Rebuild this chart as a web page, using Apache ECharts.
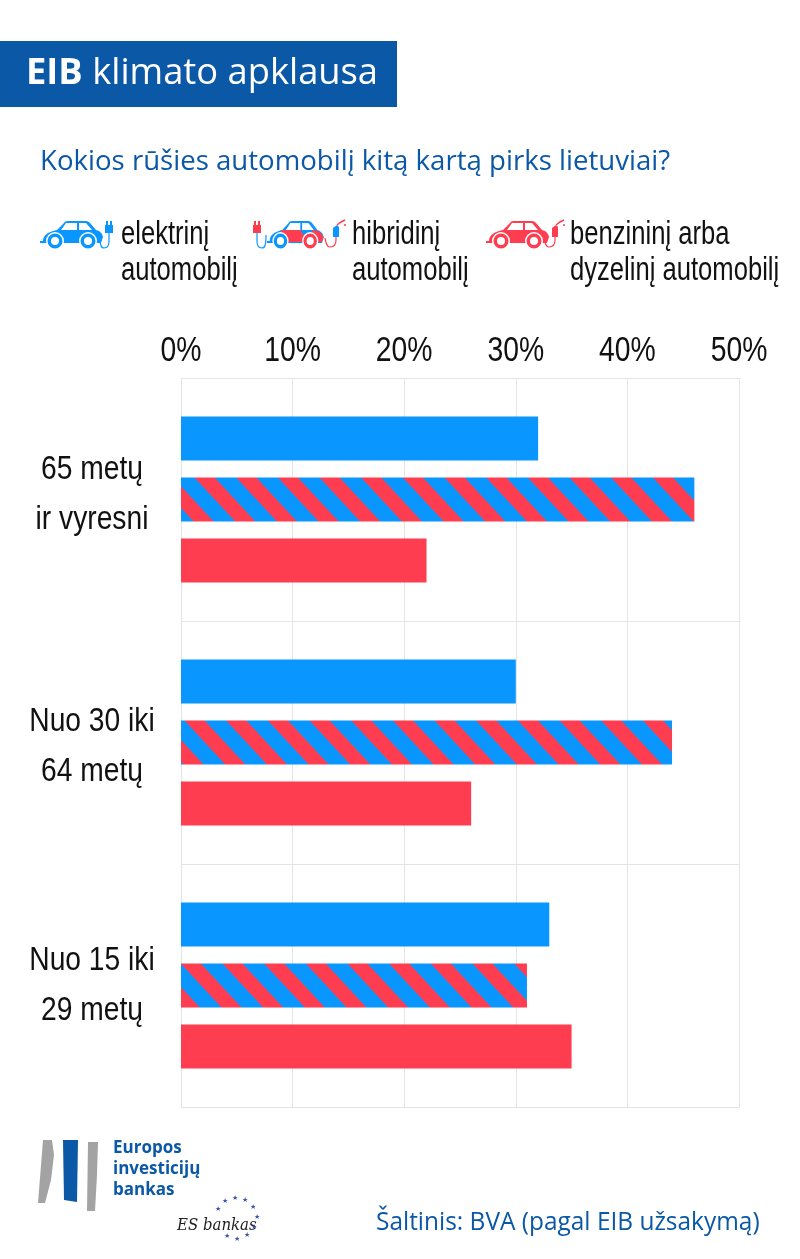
<!DOCTYPE html>
<html>
<head>
<meta charset="utf-8">
<style>html,body{margin:0;padding:0;background:#fff}#main{width:800px;height:1259px}</style>
<script src="https://cdn.jsdelivr.net/npm/echarts@6/dist/echarts.min.js"></script>
</head>
<body>
<div id="main"></div>
<script>
var categories = ['65 metų\nir vyresni', 'Nuo 30 iki\n64 metų', 'Nuo 15 iki\n29 metų'];
var electric = [32, 30, 33];
var hybrid = [46, 44, 31];
var petrol = [22, 26, 35];
var ticks = [0, 10, 20, 30, 40, 50];

var BLUE = '#0a96ff', RED = '#ff3d50', NAVY = '#0b58a6', GRID = '#e4e4e4';
var sans = '"Liberation Sans", sans-serif';
var open = '"Open Sans", sans-serif';

// where a red stripe starts on the top edge of each hybrid bar: [x, y]
var stripeStarts = [[195, 478], [185, 721], [222, 963]];
// small nudges of the category labels, the original is not quite centred
var labelNudge = [-5, 4, 0];

// diagonal stripes for the hybrid bars
var makeHatch = function (start) {
    var w = 125, h = 135, period = w / 3, c = document.createElement('canvas');
    c.width = w; c.height = h;
    var ctx = c.getContext('2d');
    var off = start[0] - start[1] * w / h;
    off = ((off % period) + period) % period;
    ctx.fillStyle = BLUE;
    ctx.fillRect(0, 0, w, h);
    ctx.fillStyle = RED;
    for (var k = -6; k <= 6; k++) {
        var x0 = off + k * period;
        ctx.beginPath();
        ctx.moveTo(x0, 0);
        ctx.lineTo(x0 + 20, 0);
        ctx.lineTo(x0 + 20 + w, h);
        ctx.lineTo(x0 + w, h);
        ctx.closePath();
        ctx.fill();
    }
    return { image: c, repeat: 'repeat' };
};

// icon outlines, the graphic component only knows registered shapes
echarts.graphic.registerShape('carBody', echarts.graphic.extendPath('M0,22 L0,20 L3,20 C3,14 8,11 17,9 L24,2 C25,0 27,0 30,0 L46,0 C48,0 49,1 50,2 L56,9 C60,10 62,12 63,16 L61,22 Z'));
echarts.graphic.registerShape('plugCable', echarts.graphic.extendPath('M0,12 L0,20 C0,26 -2,27 -5,27 C-8,27 -9,24 -9,14'));
echarts.graphic.registerShape('pumpCable', echarts.graphic.extendPath('M3,17 L3,20 C3,25 0,27 -3,27 C-6,27 -7,24 -8,18'));

var car = function (x, y, color, red, scale) {
    var kids = [
        { type: 'carBody', style: { fill: color } },
        { type: 'polygon', shape: { points: [[21, 9], [26, 2], [37, 2], [37, 9]] }, style: { fill: '#fff' } },
        { type: 'polygon', shape: { points: [[39, 2], [46, 2], [52, 9], [39, 9]] }, style: { fill: '#fff' } }
    ];
    if (red) {
        kids.splice(1, 0, { type: 'polygon', shape: { points: [[15, 9], [37, 9], [46, 21], [22, 21]] }, style: { fill: RED } });
        kids.push({ type: 'polygon', shape: { points: [[50, 9], [58, 10], [63, 16], [61, 21], [50, 21]] }, style: { fill: RED } });
    }
    [15, 48].forEach(function (cx) {
        kids.push({ type: 'circle', shape: { cx: cx, cy: 20, r: 9 }, style: { fill: '#fff' } });
        kids.push({ type: 'ring', shape: { cx: cx, cy: 20, r: 7.5, r0: 4 }, style: { fill: red && cx === 48 ? RED : color } });
    });
    return { type: 'group', x: x, y: y, scaleX: scale || 1, children: kids };
};

var plug = function (x, y, color, flip, cableColor) {
    return { type: 'group', x: x, y: y, scaleX: flip ? -1 : 1, children: [
        { type: 'rect', shape: { x: -3, y: 0, width: 2, height: 4 }, style: { fill: color } },
        { type: 'rect', shape: { x: 1, y: 0, width: 2, height: 4 }, style: { fill: color } },
        { type: 'rect', shape: { x: -4, y: 4, width: 8, height: 8 }, style: { fill: color } },
        { type: 'plugCable', style: { fill: 'none', stroke: cableColor || color, lineWidth: 1.2 } }
    ] };
};

var pump = function (x, y, color, cableColor) {
    return { type: 'group', x: x, y: y, children: [
        { type: 'polygon', shape: { points: [[0, 8], [4, 5], [6, 7], [6, 17], [0, 17]] }, style: { fill: color } },
        { type: 'polyline', shape: { points: [[4, 5], [8, 2], [12, 0]] }, style: { stroke: cableColor || color, lineWidth: 1.5, fill: 'none' } },
        { type: 'circle', shape: { cx: 12, cy: 5, r: 1 }, style: { fill: cableColor || color } },
        { type: 'pumpCable', style: { fill: 'none', stroke: cableColor || color, lineWidth: 1.2 } }
    ] };
};

var legendText = function (x, text) {
    return { type: 'text', x: x, y: 217, scaleX: 0.776, style: { text: text, font: '33px ' + sans, lineHeight: 36, fill: '#111' } };
};

var stars = [[225, 1202], [235, 1199], [245, 1201], [253, 1208], [257, 1218], [254, 1228], [247, 1236], [237, 1240], [227, 1237], [218, 1210]];

var graphics = [
    { type: 'rect', shape: { x: 0, y: 41, width: 397, height: 66 }, style: { fill: NAVY } },
    { type: 'text', x: 26, y: 56, style: { text: '{b|EIB} klimato apklausa', rich: { b: { font: 'bold 36.3px ' + open, fill: '#fff' } }, font: '36.3px ' + open, fill: '#fff' } },
    { type: 'text', x: 40, y: 148, style: { text: 'Kokios rūšies automobilį kitą kartą pirks lietuviai?', font: '27.6px ' + open, fill: NAVY } },

    car(40, 221, BLUE), plug(109, 221, BLUE),
    car(267, 221, BLUE, true, 0.9), plug(257, 221, RED, true, BLUE), pump(333, 220, BLUE, RED),
    car(486, 221, RED), pump(552, 220, RED),
    legendText(121, 'elektrinį\nautomobilį'),
    legendText(352, 'hibridinį\nautomobilį'),
    legendText(570, 'benzininį arba\ndyzelinį automobilį'),

    { type: 'polygon', shape: { points: [[43, 1140], [52, 1140], [54, 1155], [51, 1180], [45, 1203], [38, 1203]] }, style: { fill: '#a3a3a3' } },
    { type: 'polygon', shape: { points: [[63, 1140], [78, 1140], [77, 1202], [64, 1200]] }, style: { fill: NAVY } },
    { type: 'polygon', shape: { points: [[88, 1142], [98, 1142], [97, 1175], [95, 1211], [87, 1211]] }, style: { fill: '#a3a3a3' } },
    { type: 'text', x: 113, y: 1138, style: { text: 'Europos\ninvesticijų\nbankas', font: 'bold 17px ' + open, lineHeight: 21, fill: NAVY } },
    { type: 'text', x: 177, y: 1217, scaleX: 0.88, style: { text: 'ES bankas', font: 'italic 17px "DejaVu Serif", serif', fill: '#222' } },
    { type: 'text', x: 376, y: 1210, scaleX: 0.94, style: { text: 'Šaltinis: BVA (pagal EIB užsakymą)', font: '26px ' + open, fill: NAVY } }
];
stars.forEach(function (p) {
    graphics.push({ type: 'text', x: p[0] - 3, y: p[1] - 4, style: { text: '★', font: '7px "DejaVu Sans"', fill: '#3a55a8' } });
});

var chart = echarts.init(document.getElementById('main'), null, { renderer: 'canvas' });

var barSeries = function (name, values) {
    return { name: name, type: 'bar', data: values, barWidth: 44, barGap: '38.6%', silent: true };
};

var hybridBars = hybrid.map(function (v, i) {
    return { value: v, itemStyle: { color: makeHatch(stripeStarts[i]) } };
});

chart.setOption({
    animation: false,
    backgroundColor: '#fff',
    color: [BLUE, BLUE, RED],
    grid: { left: 181, right: 61, top: 378, bottom: 152 },
    xAxis: {
        type: 'value', position: 'top', min: ticks[0], max: ticks[ticks.length - 1], interval: 10,
        axisLine: { show: false }, axisTick: { show: false },
        axisLabel: { formatter: '{value}%', fontFamily: sans, fontSize: 35, color: '#111', margin: 9 },
        splitLine: { lineStyle: { color: GRID, width: 1 } }
    },
    yAxis: {
        type: 'category', inverse: true, data: categories,
        axisLine: { show: true, lineStyle: { color: GRID } }, axisTick: { show: false },
        axisLabel: { fontFamily: sans, fontSize: 34, lineHeight: 50, color: '#111', align: 'center', margin: 89 },
        splitLine: { show: true, lineStyle: { color: GRID, width: 1 } }
    },
    series: [
        barSeries('elektrinį automobilį', electric),
        barSeries('hibridinį automobilį', hybridBars),
        barSeries('benzininį arba dyzelinį automobilį', petrol)
    ],
    graphic: { elements: graphics }
});

// no condensed font is installed, so squeeze the axis labels like the original
var tickTexts = ticks.map(function (t) { return t + '%'; });
chart.getZr().storage.getRoots().forEach(function (root) {
    var visit = function (el) {
        if (el.type !== 'text' || !el.style) { return; }
        var catIndex = categories.indexOf(el.style.text);
        if (catIndex >= 0) {
            el.scaleX = 0.83;
            el.y += labelNudge[catIndex];
        } else if (tickTexts.indexOf(el.style.text) >= 0) {
            el.scaleX = 0.81;
        } else {
            return;
        }
        el.markRedraw();
    };
    if (root.traverse) { root.traverse(visit); } else { visit(root); }
});
chart.getZr().refreshImmediately();
</script>
</body>
</html>
